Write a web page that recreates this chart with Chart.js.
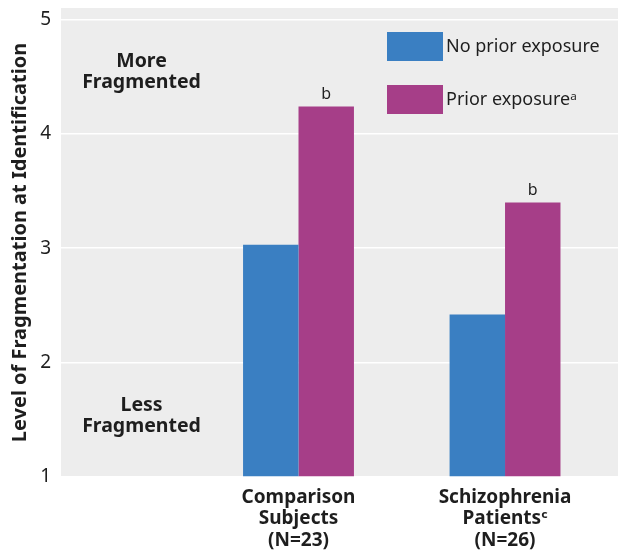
<!DOCTYPE html>
<html lang="en">
<head>
  <meta charset="UTF-8" />
  <title>Fragmentation at Identification</title>
  <script src="https://cdn.jsdelivr.net/npm/chart.js"></script>
  <style>
    body { margin: 0; background: #fff; }
    #wrap { width: 618px; height: 550px; position: relative; }
  </style>
</head>
<body>
  <div id="wrap"><canvas id="barChart"></canvas></div>

  <script>
    // data
    const groups = [
      ['Comparison', 'Subjects', '(N=23)'],
      ['Schizophrenia', 'Patients\u1D9C', '(N=26)']
    ];
    const groupPos = [1, 2];
    const seriesNames = ['No prior exposure', 'Prior exposure\u1D43'];
    const noPrior = [3.03, 2.42];
    const prior = [4.24, 3.40];
    const priorMarks = ['b', 'b'];
    const yTicks = [1, 2, 3, 4, 5];

    const blue = '#3a7fc2';
    const magenta = '#a63e88';
    const font = '"Noto Sans", "DejaVu Sans", sans-serif';

    // side notes, placed in data units
    const notes = [
      { x: 0.24, y: 4.54, lines: ['More', 'Fragmented'] },
      { x: 0.24, y: 1.53, lines: ['Less', 'Fragmented'] }
    ];

    const extras = {
      id: 'extras',
      beforeDraw(chart) {
        const { ctx, chartArea: a } = chart;
        ctx.save();
        ctx.fillStyle = '#ededed';
        ctx.fillRect(a.left, a.top, a.right - a.left, a.bottom - a.top);
        ctx.restore();
      },
      afterDatasetsDraw(chart) {
        const { ctx, chartArea: a, scales } = chart;
        ctx.save();
        ctx.fillStyle = '#1e1e1e';

        // "b" over prior-exposure bars
        ctx.font = '16px ' + font;
        ctx.textAlign = 'center';
        ctx.textBaseline = 'bottom';
        chart.getDatasetMeta(1).data.forEach((bar, i) => {
          ctx.fillText(priorMarks[i], bar.x, bar.y - 4);
        });

        // notes
        ctx.font = 'bold 19.5px ' + font;
        ctx.textBaseline = 'middle';
        notes.forEach(n => {
          const cx = scales.x.getPixelForValue(n.x);
          const cy = scales.y.getPixelForValue(n.y);
          const lh = 21;
          n.lines.forEach((t, j) => {
            ctx.fillText(t, cx, cy + (j - (n.lines.length - 1) / 2) * lh);
          });
        });

        // legend
        ctx.font = '18px ' + font;
        ctx.textAlign = 'left';
        const colors = [blue, magenta];
        seriesNames.forEach((name, i) => {
          const bx = a.left + 326;
          const by = a.top + 24 + i * 53;
          ctx.fillStyle = colors[i];
          ctx.fillRect(bx, by, 56, 29);
          ctx.fillStyle = '#1e1e1e';
          ctx.fillText(name, bx + 59, by + 15);
        });
        ctx.restore();
      }
    };

    const ctx = document.getElementById('barChart').getContext('2d');
    new Chart(ctx, {
      type: 'bar',
      data: {
        datasets: [
          {
            label: seriesNames[0],
            backgroundColor: blue,
            data: groupPos.map((x, i) => ({ x: x, y: noPrior[i] }))
          },
          {
            label: seriesNames[1],
            backgroundColor: magenta,
            data: groupPos.map((x, i) => ({ x: x, y: prior[i] }))
          }
        ]
      },
      options: {
        responsive: true,
        maintainAspectRatio: false,
        animation: false,
        base: 1,
        categoryPercentage: 0.537,
        barPercentage: 1,
        layout: { padding: { top: 8, right: 0, left: 0, bottom: 0 } },
        plugins: {
          legend: { display: false },
          tooltip: { enabled: false }
        },
        scales: {
          x: {
            type: 'linear',
            min: -0.15,
            max: 2.547,
            offset: false,
            grid: { display: false, offset: false },
            border: { display: false },
            afterFit: s => { s.height = 73; s.paddingLeft = 0; s.paddingRight = 0; },
            afterBuildTicks: s => { s.ticks = groupPos.map(v => ({ value: v })); },
            ticks: {
              autoSkip: false,
              maxRotation: 0,
              padding: 2,
              color: '#1e1e1e',
              font: { family: font, size: 19, weight: 'bold', lineHeight: 1.12 },
              callback: v => groups[groupPos.indexOf(v)]
            }
          },
          y: {
            min: 1,
            max: 5.1,
            afterFit: s => { s.width = 61; s.paddingTop = 0; s.paddingBottom = 0; },
            afterBuildTicks: s => { s.ticks = yTicks.map(v => ({ value: v })); },
            grid: { color: '#ffffff', lineWidth: 1.5, drawTicks: false },
            border: { display: false },
            ticks: {
              padding: 10,
              color: '#1e1e1e',
              font: { family: font, size: 19 }
            },
            title: {
              display: true,
              text: 'Level of Fragmentation at Identification',
              color: '#1e1e1e',
              font: { family: font, size: 20, weight: 'bold' },
              padding: { top: 8, bottom: 0 }
            }
          }
        }
      },
      plugins: [extras]
    });
  </script>
</body>
</html>
